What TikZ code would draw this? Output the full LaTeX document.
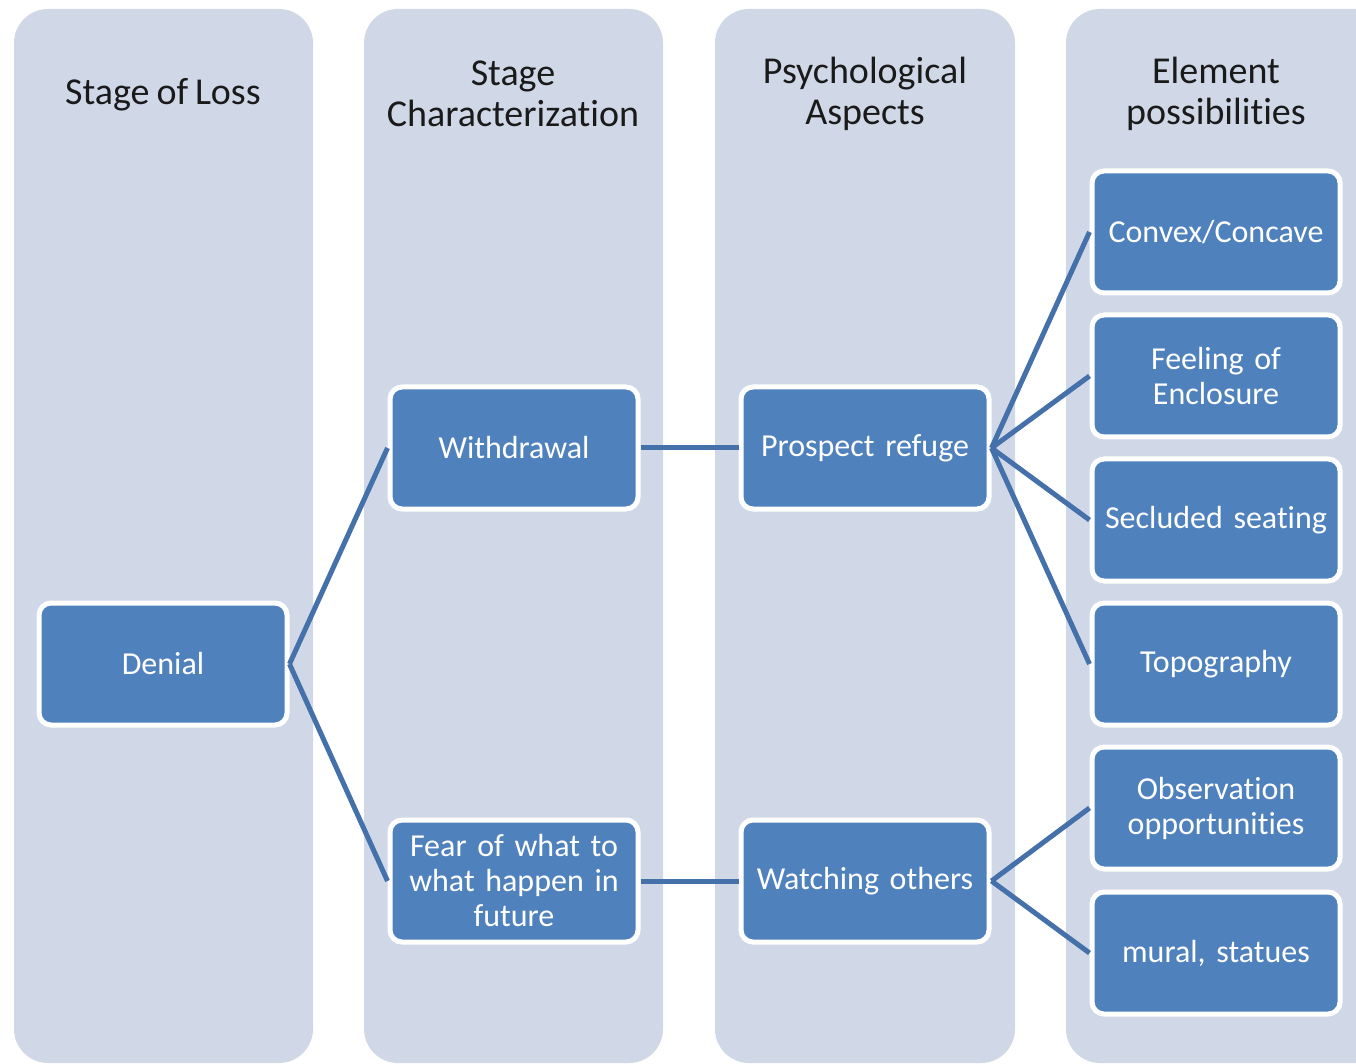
\documentclass[tikz,border=0pt]{standalone}
\usepackage{fontspec}
\setmainfont{Carlito}[Ligatures=NoCommon,WordSpace=0.8]
\definecolor{colfill}{HTML}{D0D8E8}
\definecolor{boxfill}{HTML}{4F81BD}
\definecolor{linec}{HTML}{4571AB}
\definecolor{headc}{HTML}{1A1A1A}
\begin{document}
\begin{tikzpicture}[x=0.5pt,y=-0.5pt,
  colbox/.style={fill=colfill,rounded corners=17pt},
  itembox/.style={draw=white,line width=2.5pt,fill=boxfill,rounded corners=6pt,
    minimum width=124pt,minimum height=61pt,text width=122pt,align=center,
    text=white,font=\fontsize{16}{17.5}\selectfont,inner sep=0pt},
  head/.style={align=center,text=headc,font=\fontsize{19}{20.5}\selectfont},
  conn/.style={draw=linec,line width=2.5pt}]
\useasboundingbox (0,0) rectangle (1356,1064);
\clip (0,0) rectangle (1356,1064);
% columns
\fill[colbox] (14,9) rectangle (313,1063);
\fill[colbox] (364,9) rectangle (663,1063);
\fill[colbox] (715,9) rectangle (1015,1063);
\fill[colbox] (1066,9) rectangle (1400,1063);
% headers
\node[head] (h1) at (163,95) {Stage of Loss};
\node[head] (h2) at (513,94) {Stage\\Characterization};
\node[head] (h3) at (865,94) {Psychological\\Aspects};
\node[head] (h4) at (1216,94) {Element\\possibilities};
% boxes
\node[itembox] (denial) at (163,664) {Denial};
\node[itembox] (withdrawal) at (514,448) {Withdrawal};
\node[itembox] (fear) at (514,881) {Fear of what to\\what happen in\\future};
\node[itembox] (prospect) at (865,448) {Prospect refuge};
\node[itembox] (watching) at (865,881) {Watching others};
\node[itembox] (convex) at (1216,232) {Convex/Concave};
\node[itembox] (feeling) at (1216,376) {Feeling of\\Enclosure};
\node[itembox] (secluded) at (1216,520) {Secluded seating};
\node[itembox] (topo) at (1216,664) {Topography};
\node[itembox] (obs) at (1216,808) {Observation\\opportunities};
\node[itembox] (mural) at (1216,953) {mural, statues};
% connectors
\draw[conn] (denial.east) -- (withdrawal.west);
\draw[conn] (denial.east) -- (fear.west);
\draw[conn] (withdrawal.east) -- (prospect.west);
\draw[conn] (fear.east) -- (watching.west);
\foreach \t in {convex,feeling,secluded,topo}
  \draw[conn] (prospect.east) -- (\t.west);
\foreach \t in {obs,mural}
  \draw[conn] (watching.east) -- (\t.west);
\end{tikzpicture}
\end{document}
